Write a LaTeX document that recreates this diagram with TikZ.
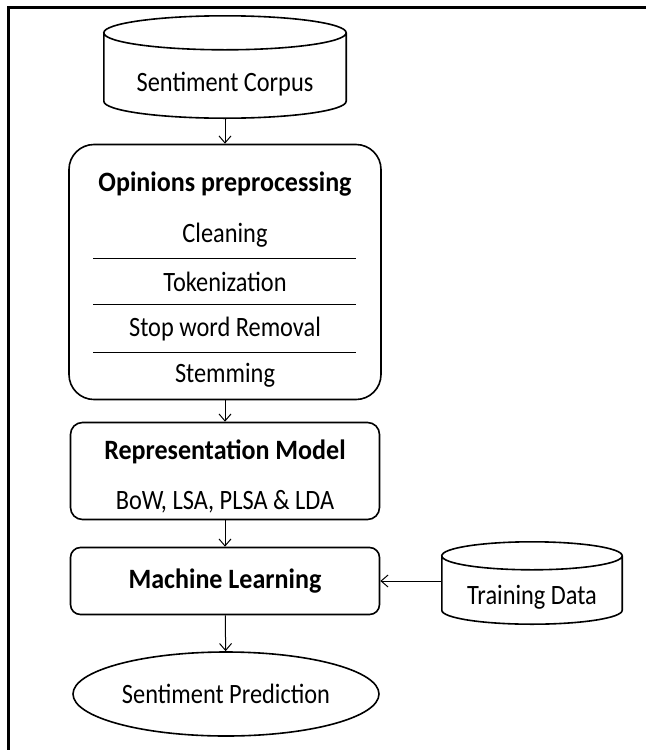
\documentclass[tikz,border=0pt]{standalone}
\usepackage{fontspec}
\setmainfont{Carlito}[FakeStretch=0.87, BoldFeatures={FakeStretch=0.93}]
\usetikzlibrary{arrows.meta,shapes.geometric,calc}

\tikzset{
  box/.style={draw, line width=1.6pt, rounded corners=12pt},
  txt/.style={font=\fontsize{28}{33}\selectfont},
  ttl/.style={font=\bfseries\fontsize{28}{33}\selectfont},
  flow/.style={line width=1pt, -{Straight Barb[length=7pt,width=12pt]}},
}
% cylinder round a node: #1 node, #2 half height of the ends
\newcommand{\dbdraw}[2]{%
  \draw[line width=1.6pt] let \p1=(#1.north west), \p2=(#1.south east), \n1={(\x2-\x1)/2} in
    (\x1,\y1+#2) -- (\x1,\y2+#2) arc[start angle=180, end angle=360, x radius=\n1, y radius=#2]
    -- (\x2,\y1+#2) arc[start angle=0, end angle=360, x radius=\n1, y radius=#2];
}

\begin{document}
\begin{tikzpicture}[x=1pt, y=-1pt]
    \useasboundingbox (0,0) rectangle (646,750);
    \draw[line width=3pt] (8,750) -- (8,7) -- (646,7);

    \node (corpus) [txt, minimum width=242pt, minimum height=68pt] at (225,84) {Sentiment Corpus};
    \dbdraw{corpus}{17pt}

    \node (pre) [box, rounded corners=25pt, minimum width=312pt, minimum height=255pt] at (225,272) {};
    \node (pretitle) [ttl] at (225,184) {Opinions preprocessing};
    \foreach \y/\name/\t in {235/clean/Cleaning, 282/token/Tokenization, 329/stop/Stop word Removal, 375/stem/Stemming}
        \node (\name) [txt] at (225,\y) {\t};
    \foreach \y in {258,304,352}
        \draw[line width=1pt] (93,\y) -- (356,\y);

    \node (rep) [box, minimum width=309pt, minimum height=97pt] at (225,471) {};
    \node (reptitle) [ttl] at (225,452) {Representation Model};
    \node (models) [txt] at (225,502) {BoW, LSA, PLSA \& LDA};

    \node (ml) [box, ttl, rounded corners=10pt, minimum width=309pt, minimum height=67pt] at (225,581) {Machine Learning};

    \node (pred) [txt, draw, ellipse, line width=1.6pt, inner sep=0pt, minimum width=306pt, minimum height=84pt] at (226,694) {Sentiment Prediction};

    \node (train) [txt, minimum width=180pt, minimum height=54pt] at (532,597) {Training Data};
    \dbdraw{train}{14pt}

    \draw[flow] (corpus) -- (pre);
    \draw[flow] (pre) -- (rep);
    \draw[flow] (rep) -- (ml);
    \draw[flow] (ml) -- (pred);
    \draw[flow] (train.west |- ml.east) -- (ml.east);
    %training data comes in from the side
\end{tikzpicture}
\end{document}
